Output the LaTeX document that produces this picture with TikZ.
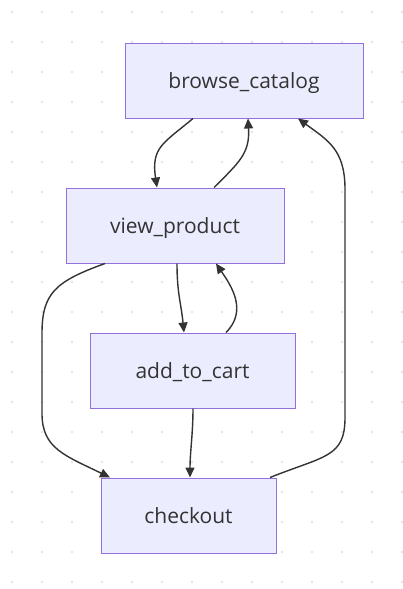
\documentclass[tikz,border=0pt]{standalone}
\usepackage{fontspec}
\setmainfont{Open Sans}
\usetikzlibrary{arrows.meta, calc}

\definecolor{boxfill}{HTML}{ECECFF}
\definecolor{boxline}{HTML}{9370DB}
\definecolor{inkgray}{HTML}{333333}
\definecolor{dotgray}{HTML}{E3E3E3}

\tikzset{
    statebox/.style={draw=boxline, fill=boxfill, line width=1pt, text=inkgray,
        minimum height=75pt, inner sep=0pt, text height=17.5pt, text depth=1.5pt,
        font=\fontsize{21}{25}\selectfont},
    flow/.style={draw=inkgray, line width=1.4pt, -{Triangle[length=10pt, width=9pt]}},
}

\begin{document}
\begin{tikzpicture}[x=1pt, y=-1pt]
    \useasboundingbox (0,0) rectangle (403,589);
    % Draw the dotted background
    \foreach \x in {12,42,...,402}
        \foreach \y in {12,42,...,588}
            \fill[dotgray] (\x,\y) circle (1.3);
    % Draw the states
    \node[statebox, minimum width=238pt] (bc) at (244,80.5) {browse\_catalog};
    \node[statebox, minimum width=218pt] (vp) at (175,225.5) {view\_product};
    \node[statebox, minimum width=205pt] (ac) at (192.5,370.5) {add\_to\_cart};
    \node[statebox, minimum width=175pt] (co) at (188.5,515.5) {checkout};
    % Draw the transitions between browse_catalog and view_product
    \draw[flow] ([xshift=-51pt]bc.south) .. controls +(-30,25) and +(-6,-40) .. ([xshift=-18pt]vp.north);
    \draw[flow] ([xshift=39pt]vp.north) .. controls +(25,-25) and +(2,35) .. ([xshift=4pt]bc.south);
    % Draw the transitions between view_product and add_to_cart
    \draw[flow] ([xshift=2pt]vp.south) .. controls +(0,30) and +(-3,-30) .. ([xshift=-8.5pt]ac.north);
    \draw[flow] ([xshift=33.5pt]ac.north) .. controls +(22,-22) and +(15,22) .. ([xshift=41pt]vp.south);
    % Draw the transitions into checkout
    \draw[flow] ([xshift=-70pt]vp.south) .. controls +(-50,18) and +(0,-40) .. ++(-63,70)
        -- ++(0,80) .. controls +(0,35) and +(-45,-22) .. ([xshift=-78.5pt]co.north);
    \draw[flow] ([xshift=0.5pt]ac.south) .. controls +(0,25) and +(0,-25) .. ([xshift=1.5pt]co.north);
    % Draw the transition back to browse_catalog
    \draw[flow] ([xshift=81.5pt]co.north) .. controls +(55,-22) and +(0,40) .. ++(75,-60)
        -- ++(0,-228) .. controls +(0,-40) and +(30,22) .. ([xshift=54pt]bc.south);
\end{tikzpicture}
\end{document}
